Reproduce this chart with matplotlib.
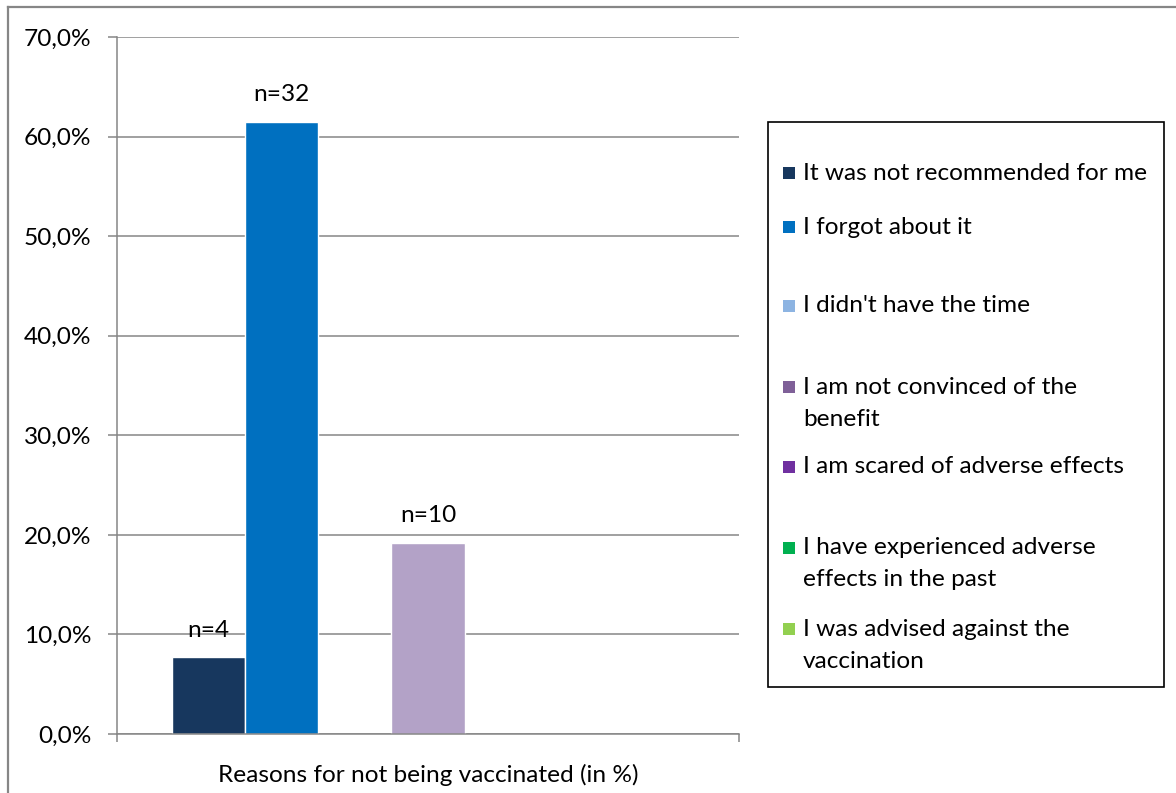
import matplotlib
matplotlib.use("Agg")
import matplotlib.pyplot as plt
from matplotlib.patches import Rectangle
from matplotlib.lines import Line2D
from matplotlib.ticker import FuncFormatter

plt.rcParams['font.family'] = ['Lato', 'DejaVu Sans']

# Reasons for not being vaccinated, share of respondents (%)
reasons = [
    "It was not recommended for me",
    "I forgot about it",
    "I didn't have the time",
    "I am not convinced of the\nbenefit",
    "I am scared of adverse effects",
    "I have experienced adverse\neffects in the past",
    "I was advised against the\nvaccination",
]
shares = [7.7, 61.5, 0.0, 19.2, 0.0, 0.0, 0.0]
counts = [4, 32, None, 10, None, None, None]
bar_colors = ["#17375E", "#0070C0", "#8DB4E2", "#B3A2C7", "#7030A0", "#00B050", "#92D050"]
legend_colors = ["#17375E", "#0070C0", "#8DB4E2", "#7F6098", "#7030A0", "#00B050", "#92D050"]
y_ticks = [0, 10, 20, 30, 40, 50, 60, 70]
x_title = "Reasons for not being vaccinated (in %)"

W, H = 1176, 793
FS = 17.6
fig = plt.figure(figsize=(W / 100, H / 100), dpi=100)
ax = fig.add_axes([117 / W, 1 - 734 / H, (739 - 117) / W, (734 - 37) / H])

grey = "#868686"
n = len(reasons)
bw = 1.0 / (n + 1.5)
for i, (v, c) in enumerate(zip(shares, bar_colors)):
    x = (i - (n - 1) / 2) * bw
    ax.bar(x, v, width=bw, color=c, edgecolor="white", linewidth=1.0 if v > 0 else 0, zorder=2)
    if counts[i] is not None:
        ax.annotate(f"n={counts[i]}", (x, v), xytext=(0, 19.5), textcoords="offset points",
                    ha="center", va="center", fontsize=FS, color="black", zorder=4)

ax.set_xlim(-0.5, 0.5)
ax.set_ylim(0, 70)
ax.set_yticks(y_ticks)
ax.yaxis.set_major_formatter(FuncFormatter(lambda v, p: f"{v:.1f}%".replace(".", ",")))
ax.set_xticks([-0.5, 0.5])
ax.set_xticklabels(["", ""])
ax.tick_params(axis="y", direction="out", length=6.5, width=1.1, color=grey,
               labelsize=FS, pad=12, labelcolor="black")
ax.tick_params(axis="x", direction="out", length=6, width=1.1, color=grey)
ax.grid(axis="y", color=grey, linewidth=1.1, zorder=0)
ax.set_axisbelow(True)
for s in ["top", "right"]:
    ax.spines[s].set_visible(False)
for s in ["left", "bottom"]:
    ax.spines[s].set_color(grey)
    ax.spines[s].set_linewidth(1.1)
    ax.spines[s].set_zorder(2.5)
ax.set_xlabel(x_title, fontsize=FS, labelpad=12, color="black")

# legend box with entries placed like the original layout
fig.patches.append(Rectangle((768 / W, 1 - 687 / H), (1164 - 768) / W, (687 - 122) / H,
                             transform=fig.transFigure, facecolor="white",
                             edgecolor="black", linewidth=1.2))
entry_y = [173, 227, 306, 387, 467, 548, 629]
line_step = 32
for label, col, yy in zip(reasons, legend_colors, entry_y):
    fig.patches.append(Rectangle((783 / W, 1 - (yy + 6) / H), 12 / W, 12 / H,
                                 transform=fig.transFigure, facecolor=col, edgecolor="none"))
    for k, part in enumerate(label.split("\n")):
        fig.text(803 / W, 1 - (yy + k * line_step) / H, part, fontsize=FS,
                 ha="left", va="center", color="black")

# outer chart frame (top and left edges)
fig.add_artist(Line2D([8 / W, 1], [1 - 7 / H, 1 - 7 / H], transform=fig.transFigure,
                      color=grey, linewidth=1.6))
fig.add_artist(Line2D([8 / W, 8 / W], [1 - 7 / H, 0], transform=fig.transFigure,
                      color=grey, linewidth=1.6))

fig.savefig("out.png", dpi=100, facecolor="white")
